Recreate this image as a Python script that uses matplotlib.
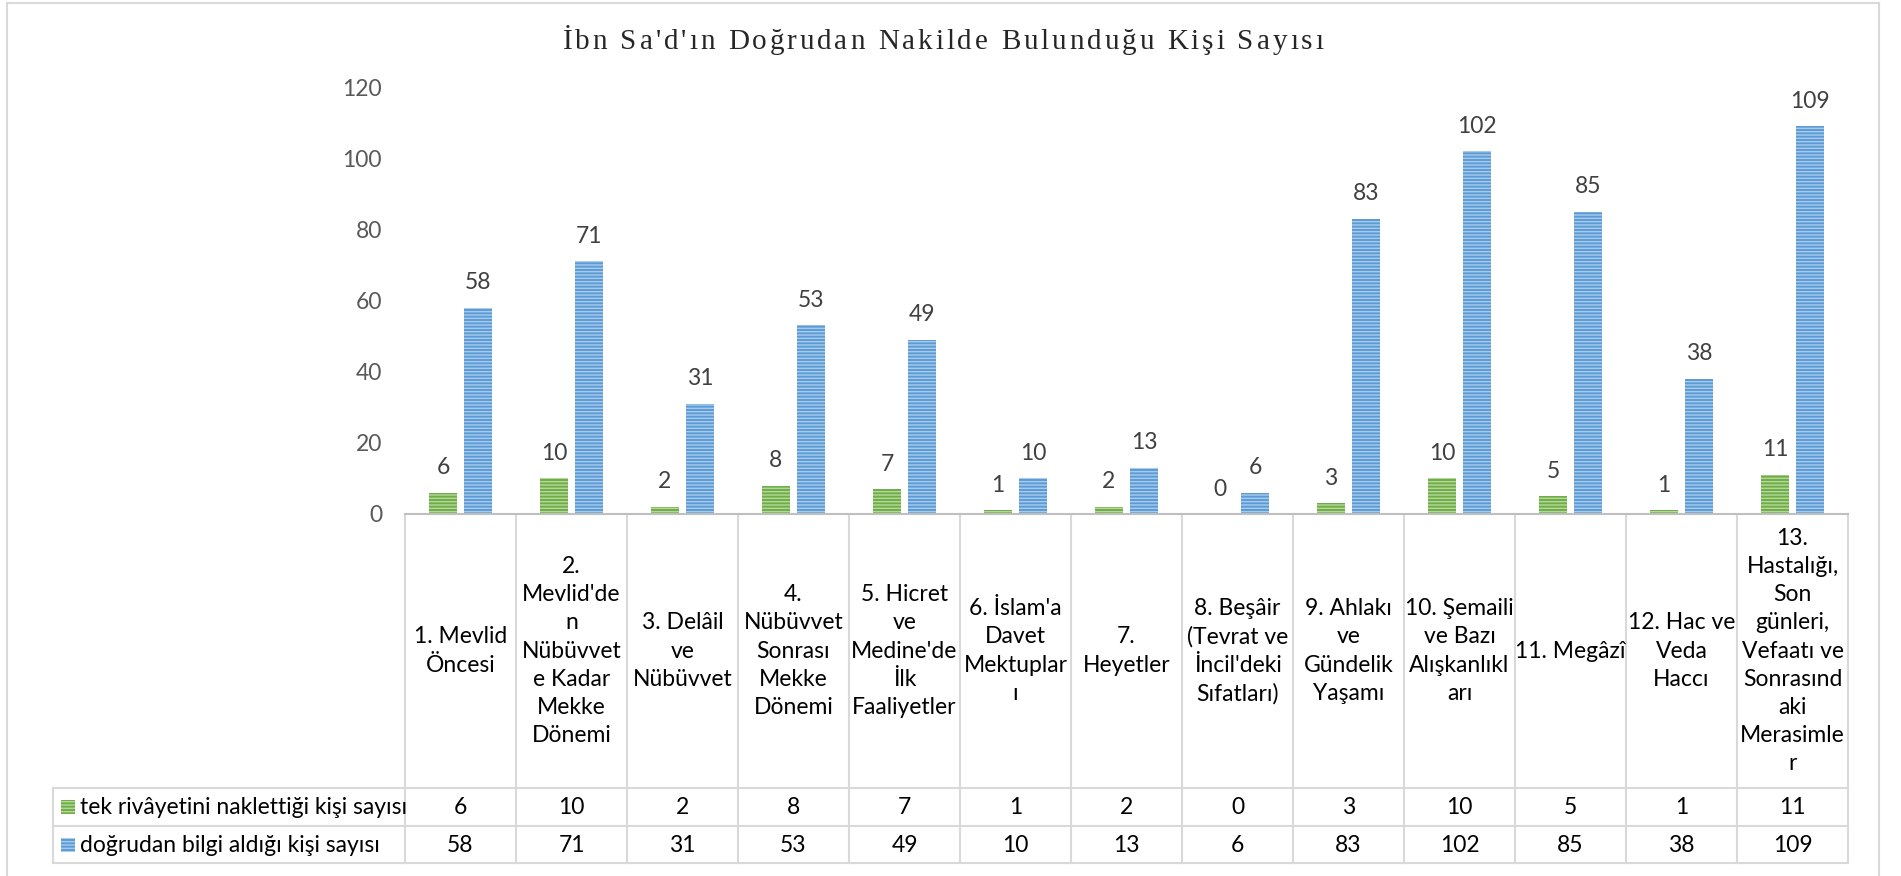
import matplotlib
matplotlib.use('Agg')
import matplotlib.pyplot as plt
import matplotlib.transforms as mtransforms
from matplotlib.lines import Line2D
from matplotlib.patches import Rectangle

plt.rcParams['font.family'] = ['Lato', 'DejaVu Sans']
plt.rcParams['hatch.linewidth'] = 1.0

# Veriler
title = "İbn Sa'd'ın Doğrudan Nakilde Bulunduğu Kişi Sayısı"
categories = [
    "1. Mevlid\nÖncesi",
    "2.\nMevlid'de\nn\nNübüvvet\ne Kadar\nMekke\nDönemi",
    "3. Delâil\nve\nNübüvvet",
    "4.\nNübüvvet\nSonrası\nMekke\nDönemi",
    "5. Hicret\nve\nMedine'de\nİlk\nFaaliyetler",
    "6. İslam'a\nDavet\nMektuplar\nı",
    "7.\nHeyetler",
    "8. Beşâir\n(Tevrat ve\nİncil'deki\nSıfatları)",
    "9. Ahlakı\nve\nGündelik\nYaşamı",
    "10. Şemaili\nve Bazı\nAlışkanlıkl\narı",
    "11. Megâzî",
    "12. Hac ve\nVeda\nHaccı",
    "13.\nHastalığı,\nSon\ngünleri,\nVefaatı ve\nSonrasınd\naki\nMerasimle\nr",
]
series_names = ["tek rivâyetini naklettiği kişi sayısı", "doğrudan bilgi aldığı kişi sayısı"]
tek = [6, 10, 2, 8, 7, 1, 2, 0, 3, 10, 5, 1, 11]
dogrudan = [58, 71, 31, 53, 49, 10, 13, 6, 83, 102, 85, 38, 109]
yticks = [0, 20, 40, 60, 80, 100, 120]

colors = ['#70AD47', '#5B9BD5']
stripes = ['#B4D89C', '#A9CBEB']
grid_c = '#D9D9D9'
fs = 16.5

W, H = 1901, 876
fig = plt.figure(figsize=(W / 100, H / 100), dpi=100)


def fx(px):
    return px / W


def fy(py):
    return 1 - py / H


ax = fig.add_axes([fx(405), fy(514), fx(1848) - fx(405), fy(87) - fy(514)])
ax.set_xlim(-0.5, len(categories) - 0.5)
ax.set_ylim(0, 120)

x = list(range(len(categories)))
for vals, off, c, s in [(tek, -0.158, colors[0], stripes[0]), (dogrudan, 0.158, colors[1], stripes[1])]:
    bars = ax.bar([i + off for i in x], vals, width=0.26, color=c, edgecolor=s,
                  linewidth=0, hatch='-----')
    for b, v in zip(bars, vals):
        ax.annotate(str(v), (b.get_x() + b.get_width() / 2, v), xytext=(0, 18),
                    textcoords='offset points', ha='center', va='center',
                    fontsize=fs, color='#404040')

for sp in ['top', 'right', 'left']:
    ax.spines[sp].set_visible(False)
ax.spines['bottom'].set_color('#BFBFBF')
ax.spines['bottom'].set_linewidth(1.5)
ax.set_xticks([])
ax.set_yticks(yticks)
ax.tick_params(axis='y', length=0, pad=16.5, labelsize=fs, labelcolor='#595959')

# Veri tablosu
blend = mtransforms.blended_transform_factory(ax.transData, fig.transFigure)
for i in range(len(categories) + 1):
    ax.add_line(Line2D([i - 0.5, i - 0.5], [fy(514), fy(863)], transform=blend,
                       color=grid_c, lw=1.5, clip_on=False))
for yy in [788, 826, 863]:
    fig.add_artist(Line2D([fx(53), fx(1848)], [fy(yy), fy(yy)], color=grid_c, lw=1.5))
fig.add_artist(Line2D([fx(53), fx(53)], [fy(788), fy(863)], color=grid_c, lw=1.5))

for i, cat in enumerate(categories):
    ax.text(i, fy(651), cat, transform=blend, ha='center', va='center',
            fontsize=fs, linespacing=1.42, color='black')
    ax.text(i, fy(807), str(tek[i]), transform=blend, ha='center', va='center',
            fontsize=fs, color='black')
    ax.text(i, fy(845), str(dogrudan[i]), transform=blend, ha='center', va='center',
            fontsize=fs, color='black')

for k, (name, yc) in enumerate(zip(series_names, [807, 845])):
    fig.add_artist(Rectangle((fx(61), fy(yc + 7)), fx(14), 14 / H, facecolor=colors[k],
                             edgecolor=stripes[k], linewidth=0, hatch='-----'))
    fig.text(fx(80), fy(yc), name, ha='left', va='center', fontsize=fs, color='black')

# Dış çerçeve
for xs, ys in [([7, 7], [3, 876]), ([1879, 1879], [3, 876]), ([7, 1879], [3, 3])]:
    fig.add_artist(Line2D([fx(v) for v in xs], [fy(v) for v in ys], color=grid_c, lw=1.5))

# Başlık (harf aralıklı)
renderer = fig.canvas.get_renderer()
tfont = dict(fontsize=21, family='Liberation Serif', color='#262626')


def text_w(s):
    t = fig.text(0, 0, s, **tfont)
    w = t.get_window_extent(renderer).width
    t.remove()
    return w


base = text_w('xx')
widths = [text_w('x' + ch + 'x') - base for ch in title]
target = 761
track = (target - sum(widths)) / (len(title) - 1)
xpos = 943 - target / 2
for ch, w in zip(title, widths):
    fig.text(fx(xpos), fy(49), ch, ha='left', va='baseline', **tfont)
    xpos += w + track

fig.savefig('out.png', dpi=100)
